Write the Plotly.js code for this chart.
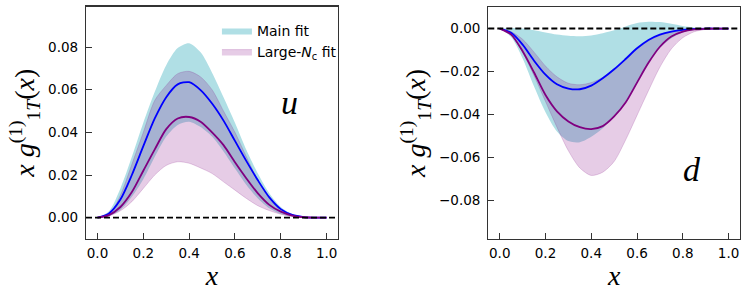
<!DOCTYPE html>
<html><head><meta charset="utf-8">
<script src="https://cdn.plot.ly/plotly-3.0.1.min.js"></script>
<style>html,body{margin:0;padding:0;background:#fff}#chart{width:748px;height:296px}</style>
</head><body><div id="chart"></div>
<script>
const xGrid = [0,0.05,0.1,0.15,0.2,0.25,0.3,0.35,0.4,0.45,0.5,0.55,0.6,0.65,0.7,0.75,0.8,0.85,0.9,0.95,1.0];

// u quark
const uMain     = [0,0.002,0.0085,0.020,0.0335,0.0465,0.0565,0.0625,0.0635,0.0598,0.0535,0.0455,0.036,0.0265,0.0175,0.0095,0.004,0.0013,0.0003,0,0];
const uMainLow  = [0,0.0008,0.0036,0.0098,0.018,0.0285,0.038,0.0435,0.045,0.0425,0.038,0.031,0.023,0.0153,0.009,0.0044,0.0017,0.0005,0.0001,0,0];
const uMainHigh = [0,0.003,0.0137,0.0285,0.0445,0.059,0.0715,0.0795,0.0818,0.0775,0.068,0.0565,0.0445,0.0317,0.0207,0.0114,0.005,0.0017,0.0004,0,0];
const uNc       = [0,0.0012,0.005,0.012,0.022,0.032,0.0415,0.0465,0.0472,0.045,0.040,0.034,0.026,0.0184,0.0114,0.006,0.0028,0.001,0.0002,0,0];
const uNcLow    = [0,0.0008,0.0032,0.0075,0.0137,0.020,0.0245,0.0262,0.0255,0.0233,0.0207,0.0168,0.0129,0.009,0.0056,0.0033,0.0016,0.0005,0.0001,0,0];
const uNcHigh   = [0,0.0015,0.0105,0.025,0.040,0.055,0.062,0.0675,0.0686,0.066,0.060,0.050,0.040,0.0285,0.0176,0.009,0.004,0.0014,0.0003,0,0];

// d quark
const dMain     = [0,-0.002,-0.0075,-0.015,-0.0215,-0.026,-0.028,-0.0283,-0.0266,-0.0232,-0.019,-0.0142,-0.0092,-0.0053,-0.0028,-0.0014,-0.0006,-0.0002,0,0,0];
const dMainLow  = [0,-0.004,-0.014,-0.027,-0.039,-0.048,-0.0525,-0.053,-0.0505,-0.0465,-0.041,-0.034,-0.025,-0.016,-0.009,-0.0045,-0.0018,-0.0006,-0.0001,0,0];
const dMainHigh = [0,0.0003,0,-0.0008,-0.0018,-0.0028,-0.0034,-0.0036,-0.0032,-0.0022,-0.0008,0.001,0.0026,0.0032,0.003,0.0022,0.0012,0.0005,0.0002,0,0];
const dNc       = [0,-0.0028,-0.0106,-0.0205,-0.031,-0.0386,-0.0433,-0.046,-0.0469,-0.0455,-0.041,-0.0345,-0.0252,-0.016,-0.0085,-0.0037,-0.0014,-0.0004,-0.0001,0,0];
const dNcLow    = [0,-0.003,-0.011,-0.022,-0.034,-0.046,-0.057,-0.065,-0.0685,-0.067,-0.062,-0.052,-0.0405,-0.029,-0.018,-0.0095,-0.0043,-0.0015,-0.0004,0,0];
const dNcHigh   = [0,-0.0015,-0.005,-0.011,-0.0175,-0.0225,-0.0255,-0.0262,-0.0252,-0.0228,-0.019,-0.0145,-0.0095,-0.0057,-0.0032,-0.0016,-0.0007,-0.0002,0,0,0];

const seriesNames = ['Main fit', 'Large-<i>N</i><sub>c</sub> fit'];
const panelLabels = ['u', 'd'];

const cyanFill = 'rgb(176,223,229)';
const pinkFill = 'rgba(128,0,128,0.2)';
const pinkEdge = 'rgba(128,0,128,0.22)';
const sp = {shape:'spline', smoothing:0.8};

function panel(xa, ya, main, mLo, mHi, nc, nLo, nHi, legend) {
  return [
    {x:xGrid, y:mLo, xaxis:xa, yaxis:ya, mode:'lines', line:Object.assign({width:0, color:cyanFill}, sp), showlegend:false, hoverinfo:'skip'},
    {x:xGrid, y:mHi, xaxis:xa, yaxis:ya, mode:'lines', line:Object.assign({width:0, color:cyanFill}, sp), fill:'tonexty', fillcolor:cyanFill, name:seriesNames[0], showlegend:legend},
    {x:xGrid, y:nLo, xaxis:xa, yaxis:ya, mode:'lines', line:Object.assign({width:0.8, color:pinkEdge}, sp), showlegend:false, hoverinfo:'skip'},
    {x:xGrid, y:nHi, xaxis:xa, yaxis:ya, mode:'lines', line:Object.assign({width:0.8, color:pinkEdge}, sp), fill:'tonexty', fillcolor:pinkFill, name:seriesNames[1], showlegend:legend},
    {x:xGrid, y:main, xaxis:xa, yaxis:ya, mode:'lines', line:Object.assign({width:1.8, color:'#0000ff'}, sp), showlegend:false},
    {x:xGrid, y:nc, xaxis:xa, yaxis:ya, mode:'lines', line:Object.assign({width:1.8, color:'#800080'}, sp), showlegend:false}
  ];
}

const data = [].concat(
  panel('x','y', uMain,uMainLow,uMainHigh,uNc,uNcLow,uNcHigh,true),
  panel('x2','y2', dMain,dMainLow,dMainHigh,dNc,dNcLow,dNcHigh,false)
);

const tickFont = {family:'DejaVu Sans', size:13.5, color:'#000'};
const mathFont = {family:'Liberation Serif', size:28, color:'#000'};
const ytitle = '<i>x</i> <i>g</i><sup>(1)</sup><sub>1<i>T</i></sub>(<i>x</i>)';

function xax(domain) {
  return {domain:domain, range:[-0.05,1.05], tick0:0, dtick:0.2, tickformat:'.1f',
    showline:true, mirror:true, linecolor:'#333', linewidth:1.2, ticks:'inside', ticklen:6, tickwidth:1, tickcolor:'#333',
    showgrid:false, zeroline:false, tickfont:tickFont, ticklabelstandoff:2,
    title:{text:'<i>x</i>', font:mathFont, standoff:5}};
}
function yax(domain, range, anchor) {
  return {domain:domain, range:range, anchor:anchor, tick0:0, dtick:0.02, tickformat:'.2f',
    showline:true, mirror:true, linecolor:'#333', linewidth:1.2, ticks:'inside', ticklen:6, tickwidth:1, tickcolor:'#333',
    showgrid:false, zeroline:false, tickfont:tickFont, ticklabelstandoff:4,
    title:{text:ytitle, font:mathFont, standoff:5}};
}

const layout = {
  width:748, height:296, margin:{l:0,r:0,t:0,b:0},
  paper_bgcolor:'#fff', plot_bgcolor:'#fff',
  showlegend:true,
  xaxis: Object.assign(xax([0.115,0.452]), {anchor:'y'}),
  yaxis: yax([0.1926,0.978], [-0.01,0.099], 'x'),
  xaxis2: Object.assign(xax([0.6528,0.9893]), {anchor:'y2'}),
  yaxis2: yax([0.1936,0.976], [-0.098,0.01], 'x2'),
  legend:{x:0.29, y:0.95, xanchor:'left', yanchor:'top', bgcolor:'rgba(0,0,0,0)', traceorder:'normal',
    font:{family:'DejaVu Sans', size:14, color:'#000'}, tracegroupgap:0},
  shapes:[
    {type:'line', xref:'x domain', x0:0, x1:1, yref:'y', y0:0, y1:0, line:{color:'#000', width:1.9, dash:'6px,3px'}},
    {type:'line', xref:'x2 domain', x0:0, x1:1, yref:'y2', y0:0, y1:0, line:{color:'#000', width:1.9, dash:'6px,3px'}}
  ],
  annotations:[
    {xref:'x', yref:'y', x:0.838, y:0.0541, text:'<i>'+panelLabels[0]+'</i>', showarrow:false, font:{family:'Liberation Serif', size:34, color:'#000'}},
    {xref:'x2', yref:'y2', x:0.839, y:-0.0658, text:'<i>'+panelLabels[1]+'</i>', showarrow:false, font:{family:'Liberation Serif', size:34, color:'#000'}}
  ]
};

Plotly.newPlot('chart', data, layout, {displayModeBar:false, staticPlot:true});
</script>
</body></html>
